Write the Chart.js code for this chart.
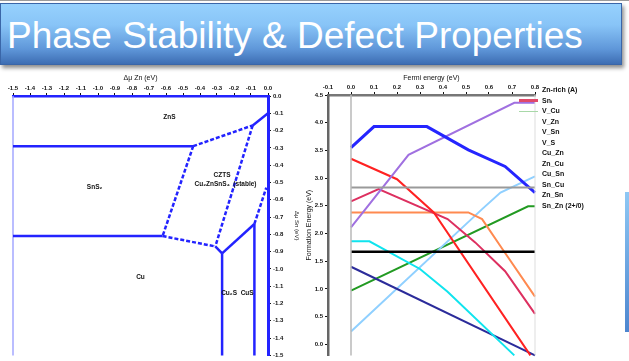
<!DOCTYPE html>
<html>
<head>
<meta charset="utf-8">
<script src="https://cdn.jsdelivr.net/npm/chart.js@4.4.1/dist/chart.umd.min.js"></script>
<style>
html, body { margin: 0; padding: 0; background: #fff; }
body { width: 629px; height: 361px; position: relative; overflow: hidden; font-family: "Liberation Sans", Arial, sans-serif; }
#topline { position: absolute; left: 0; top: 0; width: 629px; height: 1px; background: #9a9a9a; }
#banner {
    position: absolute; left: 0; top: 3px; width: 622px; height: 62px; box-sizing: border-box;
    border: 1px solid #3a66a8;
    background: linear-gradient(to bottom, #96d1fd 0%, #88c4f7 35%, #5f97d9 75%, #3d6db3 100%);
    box-shadow: 2px 3px 4px rgba(0,0,0,0.45);
}
#banner span { position: absolute; left: 6px; top: 13px; font-size: 37px; line-height: 37px; color: #fff; white-space: nowrap; }
#edge { position: absolute; left: 625px; top: 192px; width: 4px; height: 140px; background: linear-gradient(#8ec8f5, #4d86cf); }
#phase  { position: absolute; left: 0;     top: 70px; }
#defect { position: absolute; left: 296px; top: 70px; }
#legend { position: absolute; left: 519px; top: 85px; font-size: 7px; font-weight: bold; color: #111; }
#legend .row { height: 10.5px; line-height: 10.5px; white-space: nowrap; }
#legend .smp { display: inline-block; width: 19px; height: 0; vertical-align: middle; margin-right: 4px; border-top: 2px solid transparent; }
#legend .head { padding-left: 23px; }
</style>
</head>
<body>
<div id="topline"></div>
<div id="banner"><span>Phase Stability &amp; Defect Properties</span></div>
<div id="edge"></div>
<canvas id="phase" width="300" height="291"></canvas>
<canvas id="defect" width="245" height="291"></canvas>
<div id="legend"></div>

<script>
// ── Left: chemical potential stability map (Δμ, eV) ───────────
const muTicks = [-1.5, -1.4, -1.3, -1.2, -1.1, -1.0, -0.9, -0.8, -0.7, -0.6, -0.5, -0.4, -0.3, -0.2, -0.1, 0];

const bndA = [[-1.5, -0.29], [-0.44, -0.29]];
const bndB = [[-0.44, -0.29], [-0.09, -0.17]];
const bndC = [[-0.09, -0.17], [0, -0.10]];
const bndD = [[-0.44, -0.29], [-0.62, -0.81]];
const bndE = [[-1.5, -0.81], [-0.62, -0.81]];
const bndF = [[-0.62, -0.81], [-0.31, -0.87]];
const bndG = [[-0.09, -0.17], [-0.31, -0.87]];
const bndH = [[-0.31, -0.87], [-0.27, -0.91]];
const bndI = [[-0.27, -0.91], [-0.27, -1.5]];
const bndJ = [[-0.27, -0.91], [-0.08, -0.74]];
const bndK = [[-0.08, -0.74], [-0.08, -1.5]];
const bndL = [[-0.08, -0.74], [-0.01, -0.53]];
const bndEdge = [[-1.5, 0], [-1.5, -1.5]];

const phaseNames = ['ZnS', 'SnS\u2082', 'CZTS', 'Cu\u2082ZnSnS\u2084  (stable)', 'Cu', 'Cu\u2082S  CuS'];
const phaseAt    = [[-0.58, -0.12], [-1.02, -0.53], [-0.27, -0.46], [-0.25, -0.51], [-0.75, -1.05], [-0.18, -1.14]];

// ── Right: defect formation energy vs Fermi level ─────────────
const efTicks   = [-0.1, 0, 0.1, 0.2, 0.3, 0.4, 0.5, 0.6, 0.7, 0.8];
const formTicks = [0, 0.5, 1.0, 1.5, 2.0, 2.5, 3.0, 3.5, 4.0, 4.5];

const efVSn  = [0, 0.10, 0.33, 0.51, 0.67, 0.80];  const eVSn  = [3.55, 3.93, 3.93, 3.51, 3.21, 2.74];
const efSnZn = [0, 0.25, 0.71, 0.80];              const eSnZn = [2.11, 3.42, 4.36, 4.36];
const efVS   = [0, 0.20, 0.36, 0.78];              const eVS   = [3.35, 2.98, 2.38, -0.2];
const efZnSn = [0, 0.12, 0.42, 0.54, 0.67, 0.80];  const eZnSn = [2.58, 2.80, 2.26, 1.84, 1.32, 0.55];
const efCuSn = [0, 0.51, 0.57, 0.65, 0.80];        const eCuSn = [2.38, 2.38, 2.26, 1.77, 0.86];
const efSnCu = [0, 0.80];                          const eSnCu = [2.83, 2.83];
const efCuI  = [0, 0.80];                          const eCuI  = [1.67, 1.67];
const efVZn  = [0, 0.08, 0.30, 0.42, 0.71];        const eVZn  = [1.86, 1.86, 1.36, 0.95, -0.2];
const efVCu  = [0, 0.80];                          const eVCu  = [1.40, -0.2];
const efZnCu = [0, 0.57, 0.65, 0.80];              const eZnCu = [0.23, 2.44, 2.74, 3.03];
const efCuZn = [0, 0.77, 0.80];                    const eCuZn = [0.97, 2.49, 2.49];
const efVbm  = [0, 0];                             const efCbm = [0.8, 0.8];
const eEdge  = [-0.2, 4.5];

const legendHead   = 'Zn-rich (A)';
const legendLabels = ['Sn\u1d62', 'V_Cu', 'V_Zn', 'V_Sn', 'V_S', 'Cu_Zn', 'Zn_Cu', 'Cu_Sn', 'Sn_Cu', 'Zn_Sn', 'Sn_Zn (2+/0)'];
const legendColors = ['#e04a6a', '#a8d8a8', null, null, null, null, null, null, null, null, null];

// ── Helpers ───────────────────────────────────────────────────
const FONT = 'Liberation Sans';
const pts  = arr => arr.map(p => ({ x: p[0], y: p[1] }));
const zip  = (xs, ys) => xs.map((x, i) => ({ x, y: ys[i] }));
const fixTicks = vals => scale => { scale.ticks = vals.map(v => ({ value: v })); };

Chart.defaults.font.family = FONT;
Chart.defaults.color = '#111';

// ── Phase map chart ───────────────────────────────────────────
const BLUE = '#2323ff';
const segs = [
    [bndA, false], [bndB, true], [bndC, false], [bndD, true], [bndE, false], [bndF, true],
    [bndG, true], [bndH, false], [bndI, false], [bndJ, false], [bndK, false], [bndL, true]
];

const phaseDatasets = segs.map(([seg, dashed]) => ({
    data: pts(seg),
    borderColor: BLUE,
    borderWidth: 2.5,
    borderDash: dashed ? [4, 2] : [],
    pointRadius: 0,
    showLine: true,
    clip: 3
}));
phaseDatasets.push({ data: pts(bndEdge), borderColor: '#a4a8ff', borderWidth: 1.5, pointRadius: 0, showLine: true, clip: false });

const phaseLabelPlugin = {
    id: 'phaseLabels',
    afterDatasetsDraw(chart) {
        const { ctx, scales: { x, y } } = chart;
        ctx.save();
        ctx.fillStyle = '#111';
        ctx.font = `bold 6.5px "${FONT}"`;
        ctx.textAlign = 'center';
        ctx.textBaseline = 'middle';
        phaseNames.forEach((t, i) => ctx.fillText(t, x.getPixelForValue(phaseAt[i][0]), y.getPixelForValue(phaseAt[i][1])));
        ctx.restore();
    }
};

new Chart(document.getElementById('phase'), {
    type: 'scatter',
    data: { datasets: phaseDatasets },
    options: {
        responsive: false,
        animation: false,
        devicePixelRatio: 1,
        layout: { padding: { left: 13, right: 0, top: 0, bottom: 4 } },
        plugins: { legend: { display: false }, tooltip: { enabled: false } },
        scales: {
            x: {
                type: 'linear', position: 'top', min: -1.5, max: 0,
                afterBuildTicks: fixTicks(muTicks),
                afterFit: s => { s.height = 26; },
                grid: { drawOnChartArea: false, tickLength: 3, tickColor: '#111' },
                border: { color: BLUE, width: 2.5 },
                ticks: { autoSkip: false, maxRotation: 0, padding: 1, font: { size: 6, weight: 'bold' }, callback: v => v.toFixed(1) },
                title: { display: true, text: '\u0394\u03bc Zn (eV)', font: { size: 7 }, padding: { top: 4, bottom: 0 } }
            },
            y: {
                type: 'linear', position: 'right', min: -1.5, max: 0,
                afterBuildTicks: fixTicks(muTicks),
                afterFit: s => { s.width = 32; },
                grid: { drawOnChartArea: false, tickLength: 3, tickColor: '#111' },
                border: { color: BLUE, width: 3 },
                ticks: { autoSkip: false, padding: 2, font: { size: 6, weight: 'bold' }, callback: v => v.toFixed(1) },
                title: { display: true, text: '\u0394\u03bc Sn (eV)', font: { size: 6 }, padding: { top: 0, bottom: 8 } }
            }
        }
    },
    plugins: [phaseLabelPlugin]
});

// ── Formation energy chart ────────────────────────────────────
const line = (xs, ys, color, width = 2) => ({
    data: zip(xs, ys), borderColor: color, borderWidth: width, pointRadius: 0, showLine: true, clip: 2
});

const defectDatasets = [
    line(efVbm,  eEdge, '#b8b8b8', 1.5),
    line(efCbm,  eEdge, '#dddddd', 1),
    line(efSnCu, eSnCu, '#9a9a9a', 2),
    line(efCuI,  eCuI,  '#000000', 2.5),
    line(efVSn,  eVSn,  '#2525ff', 3),
    line(efSnZn, eSnZn, '#a070e0', 2),
    line(efVS,   eVS,   '#ff2222', 2),
    line(efZnSn, eZnSn, '#dd3060', 2),
    line(efCuSn, eCuSn, '#ff8a50', 2),
    line(efVZn,  eVZn,  '#10e4ee', 2),
    line(efVCu,  eVCu,  '#2b2b9a', 2),
    line(efZnCu, eZnCu, '#90d0ff', 2),
    line(efCuZn, eCuZn, '#229a22', 2)
];

new Chart(document.getElementById('defect'), {
    type: 'scatter',
    data: { datasets: defectDatasets },
    options: {
        responsive: false,
        animation: false,
        devicePixelRatio: 1,
        layout: { padding: { left: 0, right: 6, top: 0, bottom: 4 } },
        plugins: { legend: { display: false }, tooltip: { enabled: false } },
        scales: {
            x: {
                type: 'linear', position: 'top', min: -0.1, max: 0.8,
                afterBuildTicks: fixTicks(efTicks),
                afterFit: s => { s.height = 25; },
                grid: { drawOnChartArea: false, tickLength: 3, tickColor: '#111' },
                border: { color: '#777', width: 2.5 },
                ticks: { autoSkip: false, maxRotation: 0, padding: 1, font: { size: 6, weight: 'bold' }, callback: v => v.toFixed(1) },
                title: { display: true, text: 'Fermi energy (eV)', font: { size: 7 }, padding: { top: 4, bottom: 0 } }
            },
            y: {
                type: 'linear', position: 'left', min: -0.2, max: 4.5,
                afterBuildTicks: fixTicks(formTicks),
                afterFit: s => { s.width = 32; },
                grid: { drawOnChartArea: false, tickLength: 3, tickColor: '#111' },
                border: { color: '#666', width: 2.5 },
                ticks: { autoSkip: false, padding: 2, font: { size: 6, weight: 'bold' }, callback: v => v.toFixed(1) },
                title: { display: true, text: 'Formation Energy (eV)', font: { size: 7 }, padding: { top: 9, bottom: 0 } }
            }
        }
    }
});

// ── Legend ────────────────────────────────────────────────────
const legendEl = document.getElementById('legend');
legendEl.innerHTML = `<div class="row head">${legendHead}</div>` + legendLabels.map((t, i) => {
    const c = legendColors[i];
    const w = i === 0 ? 3 : 1.5;
    return `<div class="row"><span class="smp" style="border-top:${w}px solid ${c || 'transparent'}"></span>${t}</div>`;
}).join('');
</script>
</body>
</html>
